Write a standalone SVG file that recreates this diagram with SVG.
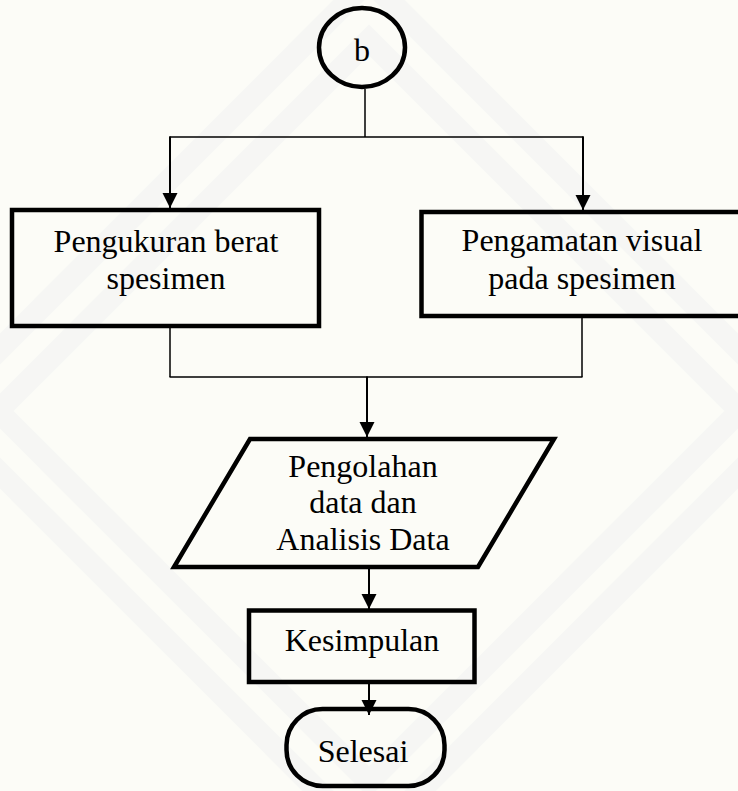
<svg xmlns="http://www.w3.org/2000/svg" width="738" height="791" viewBox="0 0 738 791">
  <defs>
    <marker id="arrow" markerUnits="userSpaceOnUse" markerWidth="16" markerHeight="16" refX="15" refY="7.5" orient="auto">
      <path d="M0,0 L15,7.5 L0,15 Z" fill="#000"/>
    </marker>
    <style>
      .shape { fill: none; stroke: #000; stroke-width: 4.5; stroke-linejoin: miter; }
      .thin { fill: none; stroke: #000; stroke-width: 1.5; }
      .flow { fill: none; stroke: #000; stroke-width: 2; marker-end: url(#arrow); }
      .label { font-family: "Liberation Serif", "Times New Roman", serif; font-size: 32px; fill: #000; text-anchor: middle; }
      .wm { fill: none; stroke: #f1f2f2; stroke-width: 22; }
    </style>
  </defs>

  <!-- paper -->
  <rect x="0" y="0" width="738" height="791" fill="#fcfcf7"/>

  <!-- faint background emblem -->
  <g id="emblem" opacity="0.5">
    <polygon class="wm" points="369,-20 800,411 369,842 -62,411"/>
    <polygon class="wm" points="369,40 740,411 369,782 -2,411" stroke-width="10"/>
  </g>

  <!-- connectors -->
  <g id="connectors">
    <line class="thin" x1="365" y1="89" x2="365" y2="137"/>
    <line class="thin" x1="169.5" y1="137" x2="583.5" y2="137"/>
    <line class="flow" x1="170" y1="136.5" x2="170" y2="208"/>
    <line class="flow" x1="583" y1="136.5" x2="583" y2="210"/>

    <line class="thin" x1="170" y1="328" x2="170" y2="377"/>
    <line class="thin" x1="582" y1="318" x2="582" y2="377"/>
    <line class="thin" x1="169.5" y1="377" x2="582.5" y2="377"/>
    <line class="flow" x1="367" y1="376.5" x2="367" y2="437"/>

    <line class="flow" x1="369" y1="569" x2="369" y2="609"/>
    <line class="flow" x1="369" y1="684" x2="369" y2="715"/>
  </g>

  <!-- connector b -->
  <g id="node-b">
    <ellipse class="shape" cx="362" cy="47.5" rx="43" ry="39.5"/>
    <text class="label" x="362" y="61">b</text>
  </g>

  <!-- weight measurement -->
  <g id="node-berat">
    <rect class="shape" x="12" y="210" width="307" height="116"/>
    <text class="label" x="166" y="251.5">Pengukuran berat</text>
    <text class="label" x="166" y="288.5">spesimen</text>
  </g>

  <!-- visual observation -->
  <g id="node-visual">
    <rect class="shape" x="421.5" y="212" width="324" height="104"/>
    <text class="label" x="582" y="251">Pengamatan visual</text>
    <text class="label" x="582" y="289">pada spesimen</text>
  </g>

  <!-- data processing -->
  <g id="node-data">
    <polygon class="shape" points="250,439 554,439 478,567 174,567"/>
    <text class="label" x="363" y="476.5">Pengolahan</text>
    <text class="label" x="363" y="513">data dan</text>
    <text class="label" x="363" y="550">Analisis Data</text>
  </g>

  <!-- conclusion -->
  <g id="node-kesimpulan">
    <rect class="shape" x="249" y="610.5" width="225.5" height="71.5"/>
    <text class="label" x="362" y="651">Kesimpulan</text>
  </g>

  <!-- end terminator -->
  <g id="node-selesai">
    <rect class="shape" x="286.5" y="709" width="158" height="77" rx="36" ry="36"/>
    <text class="label" x="363" y="762">Selesai</text>
  </g>
</svg>
